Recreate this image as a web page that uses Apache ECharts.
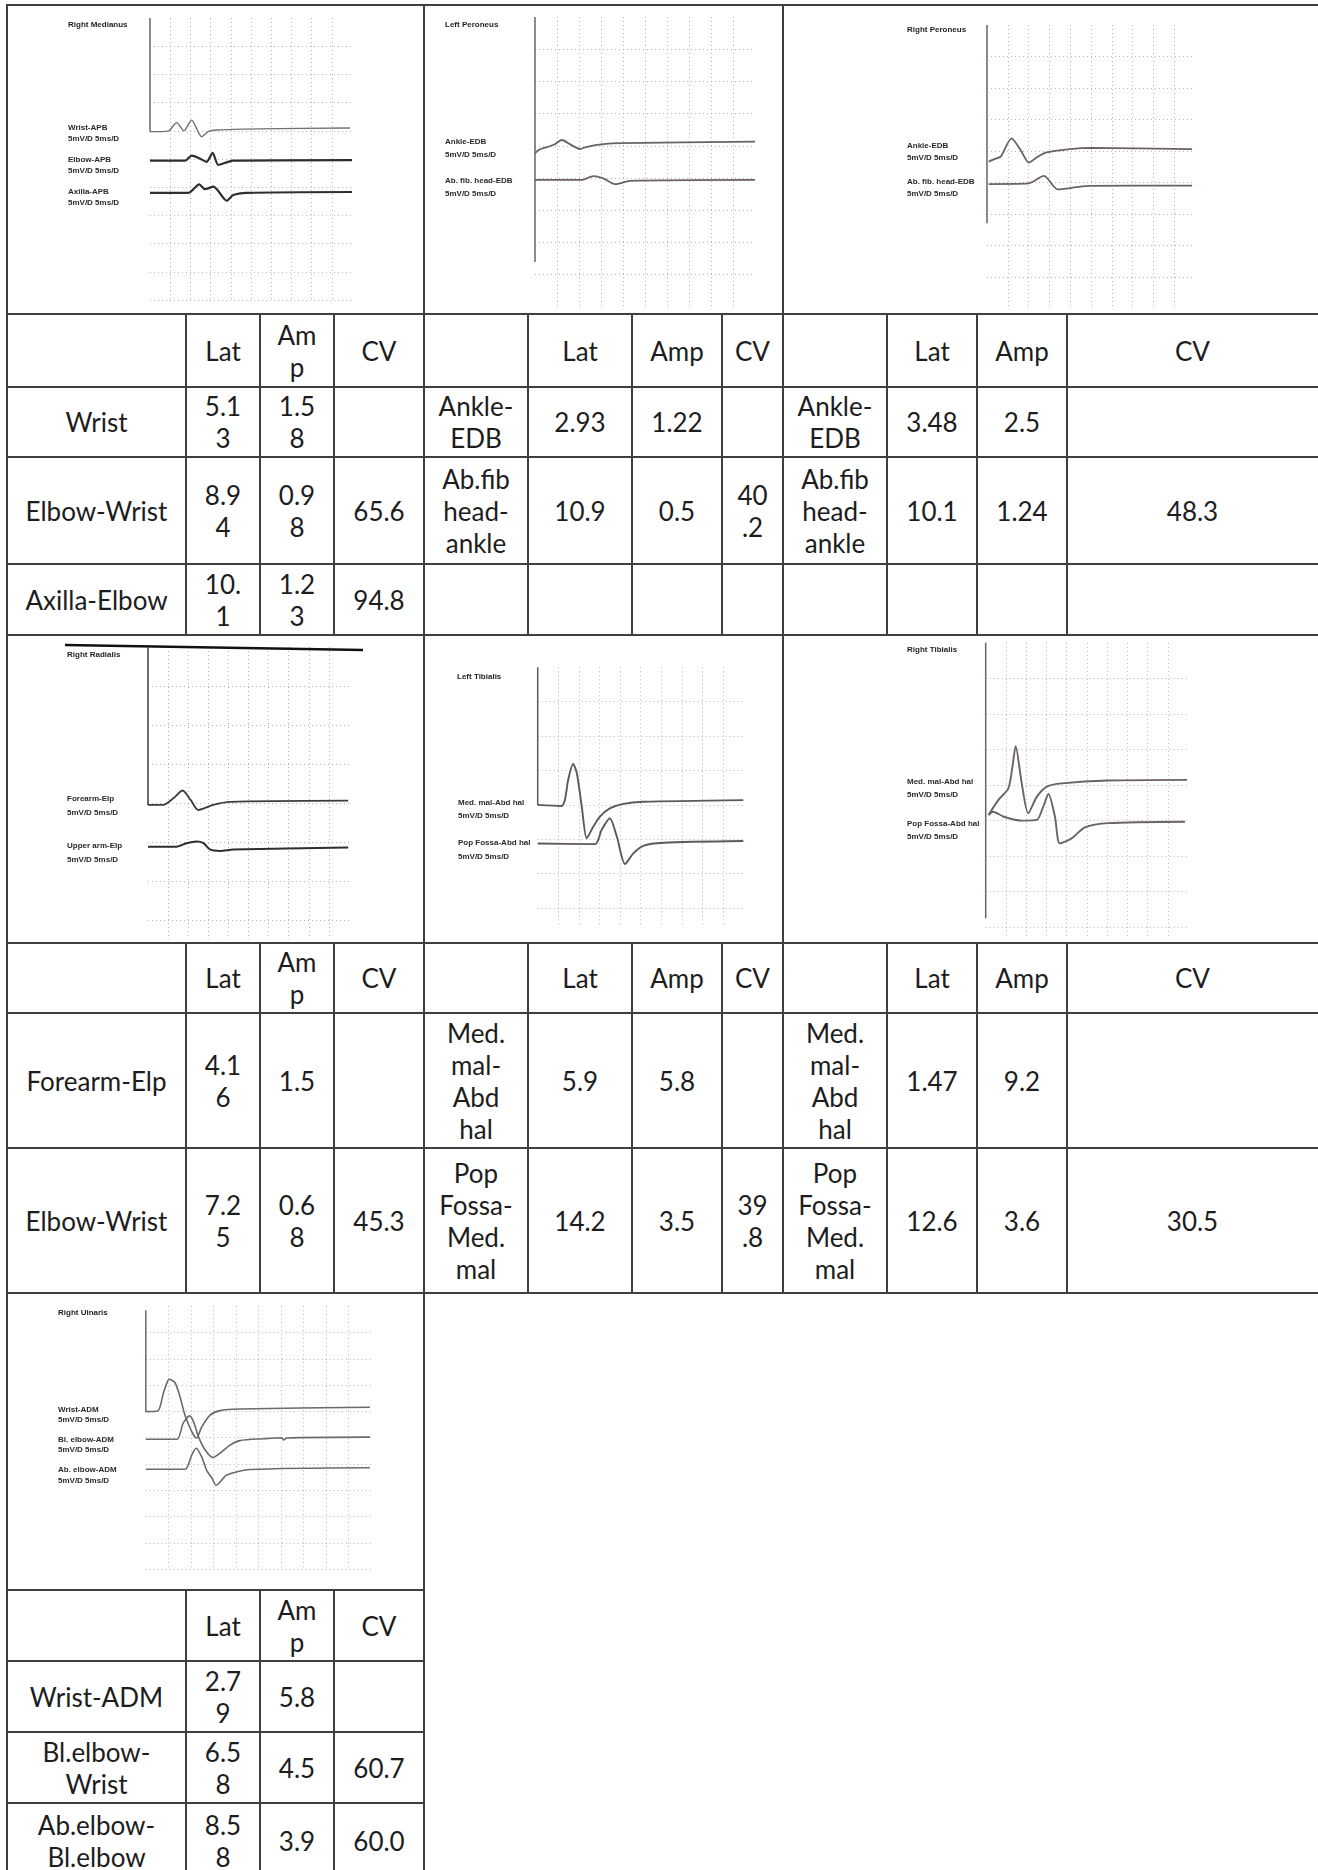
<!DOCTYPE html>
<html>
<head>
<meta charset="utf-8">
<title>Nerve conduction study</title>
<script src="https://cdn.jsdelivr.net/npm/echarts@6.0.0/dist/echarts.min.js"></script>
<style>
html, body { margin: 0; padding: 0; background: #fff; }
#page { position: relative; width: 1318px; height: 1870px; overflow: hidden; background: #fff; font-family: Lato, "Open Sans", sans-serif; }
.ln { position: absolute; background: #3f3f3f; }
.cell { position: absolute; display: flex; align-items: center; justify-content: center; text-align: center; white-space: pre-line; font-size: 26px; line-height: 32px; color: #1d1d1d; }
.panel { position: absolute; }
</style>
</head>
<body>
<div id="page"></div>
<script>
// ---- table values ----
var headNarrow = ['', 'Lat', 'Am\np', 'CV'];
var headWide = ['', 'Lat', 'Amp', 'CV'];

var medianusSite = ['Wrist', 'Elbow-Wrist', 'Axilla-Elbow'];
var medianusLat = ['5.13', '8.94', '10.1'];
var medianusAmp = ['1.58', '0.98', '1.23'];
var medianusCV = ['', '65.6', '94.8'];

var lPeroneusSite = ['Ankle-\nEDB', 'Ab.fib\nhead-\nankle'];
var lPeroneusLat = ['2.93', '10.9'];
var lPeroneusAmp = ['1.22', '0.5'];
var lPeroneusCV = ['', '40.2'];

var rPeroneusSite = ['Ankle-\nEDB', 'Ab.fib\nhead-\nankle'];
var rPeroneusLat = ['3.48', '10.1'];
var rPeroneusAmp = ['2.5', '1.24'];
var rPeroneusCV = ['', '48.3'];

var radialisSite = ['Forearm-Elp', 'Elbow-Wrist'];
var radialisLat = ['4.16', '7.25'];
var radialisAmp = ['1.5', '0.68'];
var radialisCV = ['', '45.3'];

var lTibialisSite = ['Med.\nmal-\nAbd\nhal', 'Pop\nFossa-\nMed.\nmal'];
var lTibialisLat = ['5.9', '14.2'];
var lTibialisAmp = ['5.8', '3.5'];
var lTibialisCV = ['', '39.8'];

var rTibialisSite = ['Med.\nmal-\nAbd\nhal', 'Pop\nFossa-\nMed.\nmal'];
var rTibialisLat = ['1.47', '12.6'];
var rTibialisAmp = ['9.2', '3.6'];
var rTibialisCV = ['', '30.5'];

var ulnarisSite = ['Wrist-ADM', 'Bl.elbow-\nWrist', 'Ab.elbow-\nBl.elbow'];
var ulnarisLat = ['2.79', '6.58', '8.58'];
var ulnarisAmp = ['5.8', '4.5', '3.9'];
var ulnarisCV = ['', '60.7', '60.0'];

// ---- traces: [ms, divisions below top of screen] ----
var medianusStim = [[0, 0], [0, 4.03]];
var medianusWrist = [[0, 4.03], [4.5, 4.01], [6.6, 3.71], [8.4, 4.0], [10.3, 3.62], [12.8, 4.21], [14.4, 4.03], [16.5, 3.97], [27, 3.93], [49.5, 3.9]];
var medianusElbow = [[0, 5.06], [8.7, 5.06], [10.3, 4.88], [12.3, 4.98], [14.0, 5.10], [15.5, 4.78], [16.9, 5.21], [19.0, 5.12], [20.6, 5.06], [50, 5.04]];
var medianusAxilla = [[0, 6.2], [9.5, 6.2], [12.2, 5.9], [13.6, 6.07], [15.7, 5.98], [19.0, 6.48], [20.6, 6.28], [23.9, 6.2], [50, 6.17]];

var lPeroneusStim = [[0, 0], [0, 7.61]];
var lPeroneusAnkle = [[0, 4.23], [1.0, 4.12], [3.0, 4.03], [4.5, 3.95], [6.1, 3.82], [8.2, 3.97], [10.2, 4.10], [11.8, 4.03], [15.5, 3.95], [19.7, 3.92], [50, 3.87]];
var lPeroneusFib = [[0, 5.06], [10.6, 5.06], [13.3, 4.94], [15.5, 5.01], [18.2, 5.19], [21.6, 5.09], [50, 5.06]];

var rPeroneusStim = [[0, 0], [0, 6.29]];
var rPeroneusAnkle = [[0.4, 4.34], [1.9, 4.25], [3.3, 4.18], [5.9, 3.6], [8, 3.95], [10.1, 4.37], [12, 4.2], [14.1, 4.05], [19.9, 3.94], [24.8, 3.9], [49.3, 3.94]];
var rPeroneusFib = [[0.4, 5.05], [9.9, 5.03], [13.7, 4.79], [17.0, 5.22], [21.5, 5.15], [24.8, 5.11], [49.3, 5.1]];

var radialisStim = [[0, 0], [0, 4.05]];
var radialisForearm = [[0, 4.05], [3.8, 4.05], [6.3, 3.88], [8.6, 3.68], [10.6, 3.92], [12.5, 4.18], [16.2, 4.05], [20.4, 3.97], [49.8, 3.94]];
var radialisUpperArm = [[0, 5.12], [7.1, 5.12], [9.6, 5.03], [12.1, 4.99], [13.8, 5.03], [15.4, 5.19], [17.9, 5.23], [21.2, 5.19], [49.8, 5.14]];

var lTibialisStim = [[0, 0], [0, 4.0]];
var lTibialisMed = [[0, 4.0], [5.8, 4.03], [6.6, 3.86], [7.4, 3.27], [8.6, 2.81], [9.5, 3.08], [10.7, 4.05], [11.9, 4.97], [13.5, 4.63], [15.1, 4.34], [17.5, 4.10], [20.8, 3.97], [25.6, 3.91], [49.9, 3.86]];
var lTibialisPop = [[0, 5.12], [13.9, 5.14], [15.5, 4.73], [17.5, 4.39], [19.2, 4.92], [21.2, 5.72], [23.2, 5.41], [25.6, 5.19], [30.5, 5.10], [49.9, 5.05]];

var rTibialisStim = [[0, 0], [0, 7.76]];
var rTibialisMed = [[0.7, 4.85], [3.1, 4.43], [5.6, 4.1], [6.6, 3.49], [7.4, 2.91], [8.9, 3.96], [10.5, 4.8], [12.6, 4.34], [15.1, 4.05], [18.8, 3.96], [30.2, 3.88], [49.7, 3.86]];
var rTibialisPop = [[0.7, 4.85], [1.8, 4.76], [4.5, 4.9], [8.9, 5.01], [12.6, 4.99], [14.2, 4.62], [15.5, 4.26], [17.1, 4.9], [18.3, 5.65], [21.2, 5.51], [24.5, 5.2], [30.3, 5.08], [49.2, 5.04]];

var ulnarisStim = [[0, 0.15], [0, 4.01]];
var ulnarisWrist = [[0, 4.01], [2.7, 3.98], [3.9, 3.31], [4.8, 2.87], [5.2, 2.78], [6.5, 2.91], [7.6, 3.44], [8.7, 4.14], [10.2, 4.77], [11.3, 5.02], [12.4, 4.6], [14.3, 4.14], [16.5, 3.97], [20.9, 3.91], [49.8, 3.84]];
var ulnarisBlElbow = [[0, 5.06], [6.9, 5.06], [8.3, 4.45], [9.7, 4.17], [10.6, 4.39], [11.7, 4.96], [13.2, 5.47], [14.9, 5.75], [16.5, 5.59], [18.7, 5.28], [20.9, 5.11], [26.1, 5.04], [30.2, 5.0], [30.6, 5.09], [31.3, 5.01], [49.8, 4.98]];
var ulnarisAbElbow = [[0, 6.2], [8.7, 6.2], [10.2, 5.66], [11.2, 5.4], [12.4, 5.72], [13.5, 6.23], [14.7, 6.54], [15.6, 6.81], [18.0, 6.42], [23.2, 6.21], [49.8, 6.14]];

var scaleText = '5mV/D 5ms/D';

// ---- layout ----
var colX = [7, 186, 260, 334, 424, 528, 632, 722, 783, 887, 977, 1067, 1318];
var rowsTop = [5, 314, 387, 457, 564, 635];
var rowsMid = [635, 943, 1013, 1148, 1293];
var rowsLow = [1293, 1590, 1661, 1732, 1803, 1878];

var page = document.getElementById('page');

function box(cls, x, y, w, h) {
    var d = document.createElement('div');
    d.className = cls;
    d.style.left = x + 'px';
    d.style.top = y + 'px';
    d.style.width = w + 'px';
    d.style.height = h + 'px';
    page.appendChild(d);
    return d;
}
function hLine(x1, x2, y) { box('ln', x1 - 1, y - 1, x2 - x1 + 2, 2); }
function vLine(x, y1, y2) { box('ln', x - 1, y1 - 1, 2, y2 - y1 + 2); }

// narrow cells wrap numbers every n characters, like the original
function chop(v, n) {
    if (!n || v.length <= n) return v;
    return v.match(new RegExp('.{1,' + n + '}', 'g')).join('\n');
}
function cell(ci, y1, y2, text) {
    var d = box('cell', colX[ci] + 1, y1 + 1, colX[ci + 1] - colX[ci] - 2, y2 - y1 - 2);
    d.textContent = text;
}
function fillGroup(c0, ys, head, cols, chops) {
    for (var k = 0; k < 4; k++) cell(c0 + k, ys[1], ys[2], head[k]);
    for (var r = 0; r < cols[0].length; r++) {
        for (var k = 0; k < 4; k++) cell(c0 + k, ys[r + 2], ys[r + 3], chop(cols[k][r], chops[k]));
    }
}

fillGroup(0, rowsTop, headNarrow, [medianusSite, medianusLat, medianusAmp, medianusCV], [0, 3, 3, 0]);
fillGroup(4, rowsTop, headWide, [lPeroneusSite, lPeroneusLat, lPeroneusAmp, lPeroneusCV], [0, 0, 0, 2]);
fillGroup(8, rowsTop, headWide, [rPeroneusSite, rPeroneusLat, rPeroneusAmp, rPeroneusCV], [0, 0, 0, 0]);
fillGroup(0, rowsMid, headNarrow, [radialisSite, radialisLat, radialisAmp, radialisCV], [0, 3, 3, 0]);
fillGroup(4, rowsMid, headWide, [lTibialisSite, lTibialisLat, lTibialisAmp, lTibialisCV], [0, 0, 0, 2]);
fillGroup(8, rowsMid, headWide, [rTibialisSite, rTibialisLat, rTibialisAmp, rTibialisCV], [0, 0, 0, 0]);
fillGroup(0, rowsLow, headNarrow, [ulnarisSite, ulnarisLat, ulnarisAmp, ulnarisCV], [0, 3, 3, 0]);

// borders
rowsTop.concat(rowsMid.slice(1)).forEach(function (y) { hLine(7, 1318, y); });
rowsLow.slice(1, 5).forEach(function (y) { hLine(7, 424, y); });
[7, 424, 783].forEach(function (x) { vLine(x, 5, 314); vLine(x, 635, 943); });
vLine(7, 1293, 1590); vLine(424, 1293, 1590);
colX.slice(0, 12).forEach(function (x) { vLine(x, 314, 635); vLine(x, 943, 1293); });
colX.slice(0, 5).forEach(function (x) { vLine(x, 1590, 1878); });

// ---- trace panels ----
var panels = [
    { title: 'Right Medianus', rect: [7, 5, 417, 309], titlePos: [68, 25], grid: [150, 18, 202, 282], ymax: 10, bottom: true,
      labelX: 68, labelDy: 5, lh: 11, stim: medianusStim, stimColor: '#666',
      traces: [ { name: 'Wrist-APB', data: medianusWrist, color: '#707070', w: 1.4 },
                { name: 'Elbow-APB', data: medianusElbow, color: '#2e2e2e', w: 2.2 },
                { name: 'Axilla-APB', data: medianusAxilla, color: '#2e2e2e', w: 2.2 } ] },
    { title: 'Left Peroneus', rect: [424, 5, 359, 309], titlePos: [445, 25], grid: [535, 17, 220, 289.8], ymax: 9, bottom: false,
      labelX: 445, labelDy: 7, lh: 13, stim: lPeroneusStim, stimColor: '#666',
      traces: [ { name: 'Ankle-EDB', data: lPeroneusAnkle, color: '#6a625f', w: 1.8 },
                { name: 'Ab. fib. head-EDB', data: lPeroneusFib, color: '#6a625f', w: 1.8 } ] },
    { title: 'Right Peroneus', rect: [783, 5, 535, 309], titlePos: [907, 30], grid: [987, 25, 208, 283.5], ymax: 9, bottom: false,
      labelX: 907, labelDy: 2.5, lh: 12, stim: rPeroneusStim, stimColor: '#6a625f',
      traces: [ { name: 'Ankle-EDB', data: rPeroneusAnkle, color: '#6a625f', w: 1.8 },
                { name: 'Ab. fib. head-EDB', data: rPeroneusFib, color: '#6a625f', w: 1.8 } ] },
    { title: 'Right Radialis', rect: [7, 635, 417, 308], titlePos: [67, 655], grid: [148, 647, 201, 292.5], ymax: 7.5, bottom: false,
      labelX: 67, labelDy: 5, lh: 14, stim: radialisStim, stimColor: '#3c3c3c', bar: true,
      traces: [ { name: 'Forearm-Elp', data: radialisForearm, color: '#3c3c3c', w: 1.8 },
                { name: 'Upper arm-Elp', data: radialisUpperArm, color: '#2e2e2e', w: 2.0 } ] },
    { title: 'Left Tibialis', rect: [424, 635, 359, 308], titlePos: [457, 677], grid: [537.7, 667.3, 206, 258], ymax: 7.5, bottom: false,
      labelX: 458, labelDy: 9, lh: 13.5, stim: lTibialisStim, stimColor: '#5e5856',
      traces: [ { name: 'Med. mal-Abd hal', data: lTibialisMed, color: '#5e5856', w: 1.9 },
                { name: 'Pop Fossa-Abd hal', data: lTibialisPop, color: '#5e5856', w: 1.9 } ] },
    { title: 'Right Tibialis', rect: [783, 635, 535, 308], titlePos: [907, 650], grid: [985.7, 642.8, 202.5, 294.65], ymax: 8.3, bottom: false,
      labelX: 907, labelDy: 8.5, lh: 13.5, stim: rTibialisStim, stimColor: '#6a6361',
      traces: [ { name: 'Med. mal-Abd hal', data: rTibialisMed, color: '#6a6361', w: 1.9 },
                { name: 'Pop Fossa-Abd hal', data: rTibialisPop, color: '#6a6361', w: 1.9 } ] },
    { title: 'Right Ulnaris', rect: [7, 1293, 417, 297], titlePos: [58, 1313], grid: [145.8, 1306.2, 225, 263], ymax: 10, bottom: true,
      labelX: 58, labelDy: 7.5, lh: 10.5, stim: ulnarisStim, stimColor: '#6e6866',
      traces: [ { name: 'Wrist-ADM', data: ulnarisWrist, color: '#6e6866', w: 1.6 },
                { name: 'Bl. elbow-ADM', data: ulnarisBlElbow, color: '#6e6866', w: 1.6 },
                { name: 'Ab. elbow-ADM', data: ulnarisAbElbow, color: '#6e6866', w: 1.6 } ] }
];

var gridDots = { color: 'rgba(150,112,104,0.55)', width: 1, type: [1, 3] };
var smallFont = 'bold 8px "Liberation Sans", Arial, sans-serif';

panels.forEach(function (p) {
    var el = box('panel', p.rect[0], p.rect[1], p.rect[2], p.rect[3]);
    var chart = echarts.init(el);
    var series = [{
        type: 'line', data: p.stim, showSymbol: false, silent: true,
        lineStyle: { color: p.stimColor, width: 1.5 }
    }];
    p.traces.forEach(function (t) {
        series.push({
            type: 'line', name: t.name, data: t.data, showSymbol: false, smooth: 0.25, silent: true,
            lineStyle: { color: t.color, width: t.w }
        });
    });
    chart.setOption({
        animation: false,
        grid: { left: p.grid[0] - p.rect[0], top: p.grid[1] - p.rect[1], width: p.grid[2], height: p.grid[3] },
        xAxis: {
            type: 'value', min: 0, max: 50, interval: 5,
            axisLine: { show: false }, axisTick: { show: false }, axisLabel: { show: false },
            splitLine: { show: true, showMinLine: false, showMaxLine: false, lineStyle: gridDots }
        },
        yAxis: {
            type: 'value', inverse: true, min: 0, max: p.ymax, interval: 1,
            axisLine: { show: false }, axisTick: { show: false }, axisLabel: { show: false },
            splitLine: { show: true, showMinLine: false, showMaxLine: p.bottom, lineStyle: gridDots }
        },
        series: series
    });

    // titles and trace labels, placed on each trace's settled baseline
    var g = [{
        type: 'text', x: p.titlePos[0] - p.rect[0], y: p.titlePos[1] - p.rect[1],
        style: { text: p.title, font: smallFont, fill: '#1e1e1e', textVerticalAlign: 'middle', verticalAlign: 'middle' }
    }];
    p.traces.forEach(function (t) {
        var last = t.data[t.data.length - 1];
        var pt = chart.convertToPixel({ gridIndex: 0 }, [0, last[1]]);
        g.push({
            type: 'text', x: p.labelX - p.rect[0], y: pt[1] + p.labelDy,
            style: { text: t.name + '\n' + scaleText, font: smallFont, fill: '#2a2a2a', lineHeight: p.lh,
                     textVerticalAlign: 'middle', verticalAlign: 'middle' }
        });
    });
    if (p.bar) {
        g.push({ type: 'line', shape: { x1: 58, y1: 10, x2: 356, y2: 15 }, style: { stroke: '#111', lineWidth: 2.5 } });
    }
    chart.setOption({ graphic: g });
});
</script>
</body>
</html>
